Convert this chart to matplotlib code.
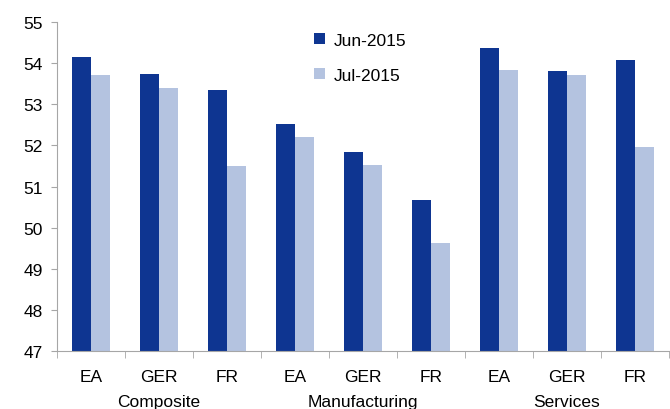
import matplotlib.pyplot as plt
import numpy as np

plt.rcParams['font.family'] = ['Liberation Sans', 'DejaVu Sans']

groups = ["Composite", "Manufacturing", "Services"]
countries = ["EA", "GER", "FR"]
jun_2015 = [54.15, 53.73, 53.35, 52.52, 51.85, 50.67, 54.37, 53.81, 54.08]
jul_2015 = [53.70, 53.40, 51.50, 52.21, 51.53, 49.63, 53.84, 53.72, 51.96]

dark = "#0e3591"
light = "#b4c3e0"
grey = "#a6a6a6"

fig = plt.figure(figsize=(6.7, 4.1), dpi=100)
ax = fig.add_axes([57 / 670, 1 - 352 / 410, 612 / 670, 329 / 410])

x = np.arange(len(jun_2015))
w = 0.285
ax.bar(x - w / 2, jun_2015, width=w, color=dark, label="Jun-2015")
ax.bar(x + w / 2, jul_2015, width=w, color=light, label="Jul-2015")

ax.set_ylim(47, 55)
ax.set_xlim(-0.5, len(x) - 0.5)
ax.set_yticks(range(47, 56))
ax.tick_params(axis='y', labelsize=12.5, color=grey, length=4, pad=6)

# category labels
ax.set_xticks(x)
ax.set_xticklabels(countries * 3, fontsize=12.5)
ax.tick_params(axis='x', which='major', length=0, pad=13)
ax.set_xticks(np.arange(-0.5, len(x), 1), minor=True)
ax.tick_params(axis='x', which='minor', length=5, color=grey)

for i, g in enumerate(groups):
    ax.text(i * 3 + 1, -0.152, g, transform=ax.get_xaxis_transform(),
            ha='center', va='center', fontsize=12.5)

for s in ['top', 'right']:
    ax.spines[s].set_visible(False)
for s in ['left', 'bottom']:
    ax.spines[s].set_color(grey)

ax.legend(loc='upper left', bbox_to_anchor=(0.395, 1.015), frameon=False,
          fontsize=12.5, handlelength=0.6, handleheight=0.6, handletextpad=0.5,
          labelspacing=1.15)

fig.savefig("out.png", dpi=100)
